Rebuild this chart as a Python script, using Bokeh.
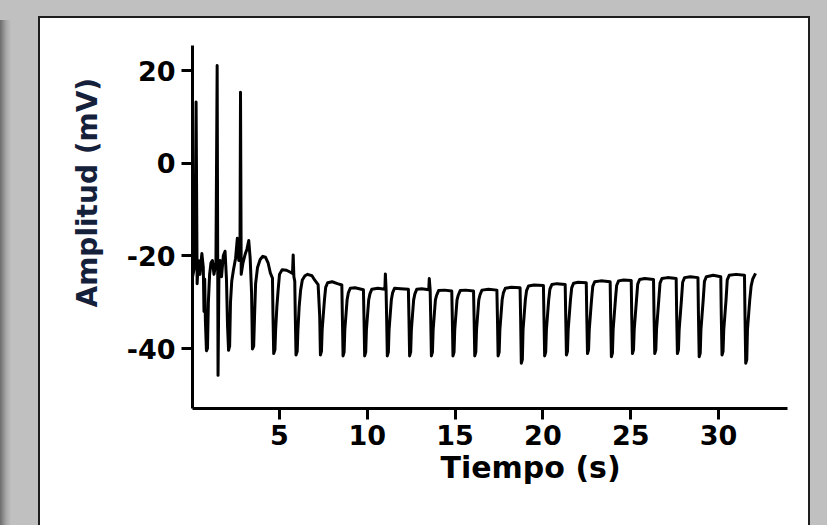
from bokeh.plotting import figure
from bokeh.models import Range1d, FixedTicker, Title, GlobalInlineStyleSheet
from bokeh.embed import file_html
from bokeh.resources import INLINE

# ---- data ----
# burst of spikes at the start (time s, amplitude mV)
BURST_T = [0.05, 0.18, 0.25, 0.31, 0.38, 0.47, 0.58, 0.66, 0.70, 0.74,
           0.78, 0.84, 0.90, 0.95, 1.02, 1.10, 1.18, 1.27, 1.38, 1.45,
           1.50, 1.55, 1.62, 1.70, 1.80, 1.90, 1.98, 2.04, 2.10, 2.16,
           2.21, 2.28, 2.38, 2.50, 2.60, 2.68, 2.75, 2.78, 2.82, 2.92,
           3.05, 3.15, 3.25, 3.33, 3.41, 3.46, 3.53, 3.58]
BURST_V = [-24.5, -22.0, 13.2, -26.0, -21.0, -24.0, -19.5, -22.5, -32.0, -25.0,
           -34.0, -40.5, -40.0, -30.0, -24.0, -21.5, -21.0, -24.0, -21.5, 21.1,
           -45.8, -25.0, -21.0, -24.5, -20.0, -19.0, -25.0, -35.0, -40.4, -39.5,
           -30.0, -25.5, -23.0, -20.5, -16.2, -21.0, -19.0, 15.3, -24.0, -21.5,
           -19.6, -18.5, -16.7, -20.5, -28.0, -40.1, -39.5, -33.0]

# rounded humps after the burst
HUMP_T = [3.64, 3.75, 3.90, 4.05, 4.20, 4.35, 4.48, 4.60, 4.63, 4.67,
          4.74, 4.78, 4.85, 4.92, 5.00, 5.15, 5.40, 5.65, 5.74, 5.78,
          5.82, 5.87, 5.90, 5.94, 6.01, 6.05, 6.12, 6.20, 6.30, 6.45,
          6.60, 6.85, 7.00, 7.20]
HUMP_V = [-26.0, -22.5, -20.8, -20.1, -20.3, -21.5, -23.7, -24.8, -33.0, -41.1,
          -40.3, -36.0, -31.0, -27.5, -24.0, -23.0, -23.1, -23.6, -23.8, -19.8,
          -24.5, -25.5, -33.0, -41.4, -40.6, -36.0, -31.0, -27.5, -25.2, -24.3,
          -24.0, -24.3, -25.2, -26.2]

# regular train of downward deflections (one row per deflection)
TRAIN_T = [7.29, 7.33, 7.39, 7.43, 7.50, 7.56, 7.63, 7.74, 8.00, 8.30, 8.55,
           8.58, 8.62, 8.68, 8.72, 8.79, 8.85, 8.92, 9.03, 9.30, 9.78,
           9.81, 9.85, 9.91, 9.95, 10.02, 10.08, 10.15, 10.26, 10.60, 11.00, 11.03, 11.07,
           11.10, 11.14, 11.20, 11.24, 11.31, 11.37, 11.44, 11.55, 11.90, 12.34,
           12.37, 12.41, 12.47, 12.51, 12.58, 12.64, 12.71, 12.82, 13.10, 13.50, 13.53, 13.58,
           13.61, 13.65, 13.71, 13.75, 13.82, 13.88, 13.95, 14.06, 14.40, 14.81,
           14.84, 14.88, 14.94, 14.98, 15.05, 15.11, 15.18, 15.29, 15.60, 16.05,
           16.08, 16.12, 16.18, 16.22, 16.29, 16.35, 16.42, 16.53, 16.90, 17.38,
           17.41, 17.45, 17.51, 17.55, 17.62, 17.68, 17.75, 17.86, 18.20, 18.70,
           18.73, 18.77, 18.83, 18.87, 18.94, 19.00, 19.07, 19.18, 19.50, 20.03,
           20.06, 20.10, 20.16, 20.20, 20.27, 20.33, 20.40, 20.51, 20.80, 21.27,
           21.30, 21.34, 21.40, 21.44, 21.51, 21.57, 21.64, 21.75, 22.00, 22.47,
           22.50, 22.54, 22.60, 22.64, 22.71, 22.77, 22.84, 22.95, 23.30, 23.83,
           23.86, 23.90, 23.96, 24.00, 24.07, 24.13, 24.20, 24.31, 24.60, 25.03,
           25.06, 25.10, 25.16, 25.20, 25.27, 25.33, 25.40, 25.51, 25.80, 26.30,
           26.33, 26.37, 26.43, 26.47, 26.54, 26.60, 26.67, 26.78, 27.10, 27.59,
           27.62, 27.66, 27.72, 27.76, 27.83, 27.89, 27.96, 28.07, 28.40, 28.83,
           28.86, 28.90, 28.96, 29.00, 29.07, 29.13, 29.20, 29.31, 29.70, 30.13,
           30.16, 30.20, 30.26, 30.30, 30.37, 30.43, 30.50, 30.61, 31.00, 31.48,
           31.51, 31.55, 31.61, 31.65, 31.72, 31.78, 31.86, 31.95, 32.11]
TRAIN_V = [-33.0, -41.4, -40.6, -36.0, -32.5, -29.5, -26.8, -25.8, -25.6, -26.0, -26.3,
           -33.0, -41.6, -40.8, -36.0, -32.5, -29.5, -28.0, -27.0, -26.9, -27.3,
           -33.0, -41.6, -40.8, -36.0, -32.5, -29.5, -28.2, -27.2, -27.0, -27.2, -23.9, -27.3,
           -33.0, -41.6, -40.8, -36.0, -32.5, -29.5, -28.0, -27.0, -27.1, -27.2,
           -33.0, -41.6, -40.8, -36.0, -32.5, -29.5, -28.2, -27.2, -27.1, -27.3, -24.9, -27.4,
           -33.0, -41.6, -40.8, -36.0, -32.5, -29.5, -28.5, -27.5, -27.4, -27.6,
           -33.0, -41.6, -40.8, -36.0, -32.5, -29.5, -28.5, -27.5, -27.4, -27.6,
           -33.0, -41.6, -40.8, -36.0, -32.5, -29.5, -28.4, -27.4, -27.2, -27.4,
           -33.0, -41.6, -40.8, -36.0, -32.5, -29.5, -28.0, -27.0, -26.8, -26.9,
           -33.0, -43.2, -42.4, -36.0, -32.5, -29.5, -27.5, -26.5, -26.3, -26.4,
           -33.0, -41.6, -40.8, -36.0, -32.5, -29.5, -27.2, -26.2, -26.0, -26.2,
           -33.0, -41.4, -40.6, -36.0, -32.5, -29.5, -26.9, -25.9, -25.7, -25.8,
           -33.0, -41.1, -40.3, -36.0, -32.5, -29.5, -26.6, -25.6, -25.4, -25.6,
           -33.0, -41.8, -41.0, -36.0, -32.5, -29.5, -26.4, -25.4, -25.2, -25.3,
           -33.0, -41.1, -40.3, -36.0, -32.5, -29.5, -26.1, -25.1, -24.9, -25.1,
           -33.0, -41.1, -40.3, -36.0, -32.5, -29.5, -25.9, -24.9, -24.7, -24.9,
           -33.0, -41.1, -40.3, -36.0, -32.5, -29.5, -25.7, -24.7, -24.5, -24.7,
           -33.0, -41.8, -41.0, -36.0, -32.5, -29.5, -25.5, -24.5, -24.2, -24.5,
           -33.0, -41.4, -40.6, -36.0, -32.5, -29.5, -25.2, -24.2, -24.0, -24.2,
           -33.0, -43.2, -42.4, -36.0, -32.5, -29.5, -26.5, -25.0, -23.8]

X_TICKS = [5, 10, 15, 20, 25, 30]
Y_TICKS = [-40, -20, 0, 20]
X_TITLE = "Tiempo (s)"
Y_TITLE = "Amplitud (mV)"

t = BURST_T + HUMP_T + TRAIN_T
v = BURST_V + HUMP_V + TRAIN_V

page_css = GlobalInlineStyleSheet(css="""
html, body { margin: 0; padding: 0; }
html {
  background:
    linear-gradient(#ffffff,#ffffff) 40px 517px / 768px 20px no-repeat fixed,
    linear-gradient(#1e1e1e,#1e1e1e) 38px 517px / 2px 20px no-repeat fixed,
    linear-gradient(#1e1e1e,#1e1e1e) 808px 517px / 2px 20px no-repeat fixed,
    linear-gradient(to right, #6c6c6c, #a6a6a6 6px, #c0c0c0 11px) 0px 20px / 11px 600px no-repeat fixed,
    #c0c0c0;
}
body { background: transparent; }
""")

p = figure(width=768, height=499, output_backend="svg", toolbar_location=None,
           x_range=Range1d(0.046, 33.93), y_range=Range1d(-52.95, 25.4),
           min_border_left=152, min_border_right=21,
           min_border_top=27, min_border_bottom=109)
p.stylesheets = [page_css]
p.styles = {"position": "relative", "left": "40px", "top": "18px",
            "background": "#ffffff",
            "box-shadow": "-2px 0 0 0 #1e1e1e, 2px 0 0 0 #1e1e1e, 0 -2px 0 0 #1e1e1e, "
                          "-2px -2px 0 0 #1e1e1e, 2px -2px 0 0 #1e1e1e"}
p.background_fill_color = None
p.border_fill_color = None
p.outline_line_color = None
p.xgrid.visible = False
p.ygrid.visible = False

p.xaxis.ticker = FixedTicker(ticks=X_TICKS)
p.yaxis.ticker = FixedTicker(ticks=Y_TICKS)
p.yaxis.major_label_overrides = {tk: str(tk) for tk in Y_TICKS}
for ax in (p.xaxis[0], p.yaxis[0]):
    ax.axis_line_width = 3
    ax.axis_line_color = "black"
    ax.major_tick_line_width = 3
    ax.major_tick_line_color = "black"
    ax.major_tick_out = 11
    ax.major_tick_in = 0
    ax.minor_tick_line_color = None
    ax.major_label_text_font = "DejaVu Sans"
    ax.major_label_text_font_style = "bold"
    ax.major_label_text_font_size = "27px"
    ax.major_label_text_color = "black"
p.xaxis.major_label_standoff = 5
p.yaxis.major_label_standoff = 6

p.line(t, v, line_width=3, line_color="black", line_join="round")

p.add_layout(Title(text=X_TITLE, align="left", offset=248, standoff=0,
                   text_font="DejaVu Sans", text_font_style="bold",
                   text_font_size="30px", text_color="black"), "below")
p.add_layout(Title(text=Y_TITLE, align="left", offset=101, standoff=40,
                   text_font="DejaVu Sans", text_font_style="bold",
                   text_font_size="28px", text_color="#15203a"), "left")

open("out.html", "w").write(file_html(p, INLINE))
